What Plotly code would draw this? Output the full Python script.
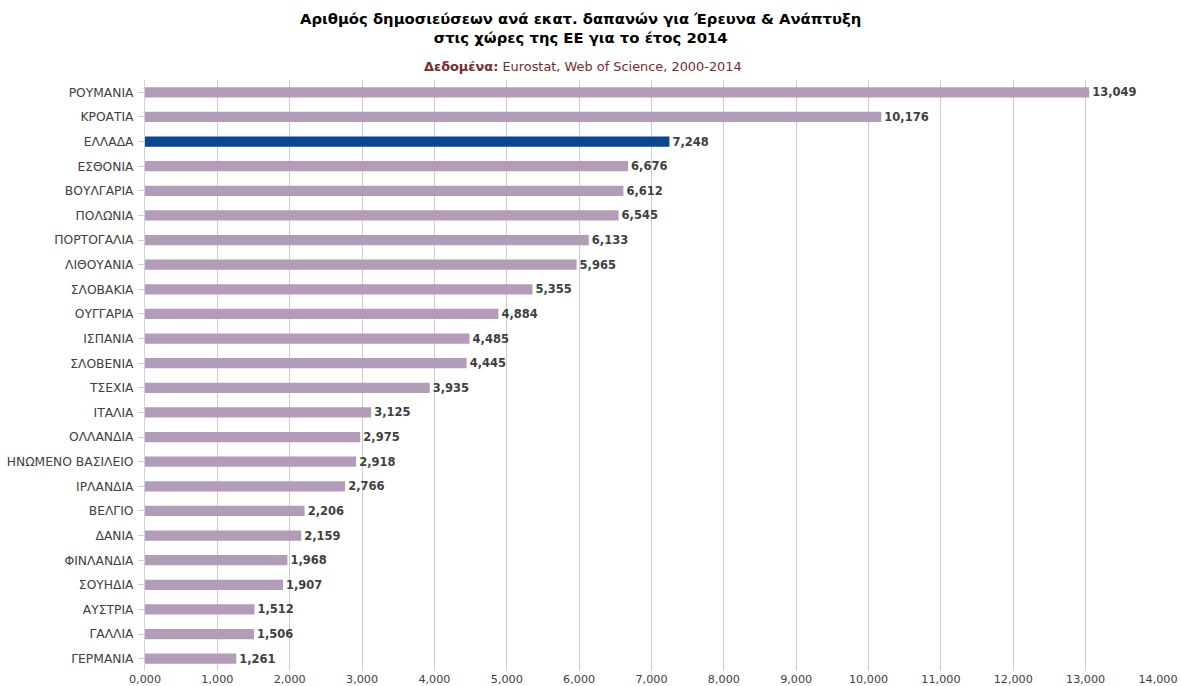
import plotly.graph_objects as go

countries = ["ΡΟΥΜΑΝΙΑ", "ΚΡΟΑΤΙΑ", "ΕΛΛΑΔΑ", "ΕΣΘΟΝΙΑ", "ΒΟΥΛΓΑΡΙΑ", "ΠΟΛΩΝΙΑ",
             "ΠΟΡΤΟΓΑΛΙΑ", "ΛΙΘΟΥΑΝΙΑ", "ΣΛΟΒΑΚΙΑ", "ΟΥΓΓΑΡΙΑ", "ΙΣΠΑΝΙΑ", "ΣΛΟΒΕΝΙΑ",
             "ΤΣΕΧΙΑ", "ΙΤΑΛΙΑ", "ΟΛΛΑΝΔΙΑ", "ΗΝΩΜΕΝΟ ΒΑΣΙΛΕΙΟ", "ΙΡΛΑΝΔΙΑ", "ΒΕΛΓΙΟ",
             "ΔΑΝΙΑ", "ΦΙΝΛΑΝΔΙΑ", "ΣΟΥΗΔΙΑ", "ΑΥΣΤΡΙΑ", "ΓΑΛΛΙΑ", "ΓΕΡΜΑΝΙΑ"]
values = [13049, 10176, 7248, 6676, 6612, 6545, 6133, 5965, 5355, 4884, 4485, 4445,
          3935, 3125, 2975, 2918, 2766, 2206, 2159, 1968, 1907, 1512, 1506, 1261]
highlight = "ΕΛΛΑΔΑ"
tick_vals = list(range(0, 14001, 1000))
tick_text = [f"{v // 1000},000" for v in tick_vals]

colors = ["#0c4590" if c == highlight else "#b39cb8" for c in countries]

fig = go.Figure(go.Bar(
    x=values, y=countries, orientation="h",
    marker=dict(color=colors, line=dict(width=0)),
    width=0.42,
    text=[f"<b>{v:,}</b>" for v in values],
    textposition="outside",
    constraintext="none",
    textfont=dict(family="DejaVu Sans", size=11.5, color="#404040"),
    cliponaxis=False,
    hoverinfo="skip",
))

fig.update_layout(
    width=1181, height=686,
    margin=dict(l=145, r=23, t=80, b=15),
    plot_bgcolor="white", paper_bgcolor="white",
    font=dict(family="DejaVu Sans", color="#404040"),
    showlegend=False,
)
fig.update_yaxes(
    categoryorder="array", categoryarray=countries[::-1],
    showgrid=False, showline=True, linecolor="#c5d4ea", linewidth=1,
    ticks="outside", tickcolor="#c5d4ea", ticklen=6,
    tickfont=dict(size=12.3, color="#404040"),
    range=[-0.5, len(countries) - 0.5],
    ticklabelstandoff=2,
    automargin=False,
)
fig.update_xaxes(
    range=[0, 14000], tickvals=tick_vals, ticktext=tick_text,
    showgrid=True, gridcolor="#cccccc", gridwidth=1,
    zeroline=False, showline=False,
    tickfont=dict(size=11.2, color="#404040"),
    ticks="", automargin=False,
)

fig.add_annotation(
    xref="paper", yref="paper", x=0.5, y=1, yshift=72, xanchor="center", yanchor="top",
    xshift=-71.5,
    text="<b>Αριθμός δημοσιεύσεων ανά εκατ. δαπανών για Έρευνα &amp; Ανάπτυξη<br>στις χώρες της ΕΕ για το έτος 2014</b>",
    showarrow=False, font=dict(size=14.8, color="#000000", family="DejaVu Sans"),
)
fig.add_annotation(
    xref="paper", yref="paper", x=0.5, y=1, yshift=23, xanchor="center", yanchor="top",
    xshift=-68.5,
    text="<b>Δεδομένα:</b> Eurostat, Web of Science, 2000-2014",
    showarrow=False, font=dict(size=12.9, color="#7b2a2a", family="DejaVu Sans"),
)

fig.write_html(
    "out.html",
    config={"displayModeBar": False},
    post_script="document.body.style.margin='0';document.body.style.overflow='hidden';",
)
